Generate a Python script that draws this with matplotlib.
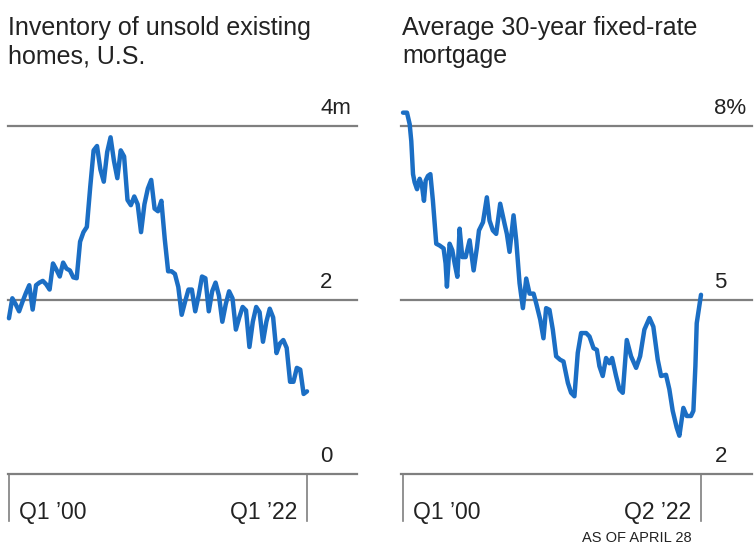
import matplotlib
matplotlib.use("Agg")
import matplotlib.pyplot as plt

plt.rcParams['font.family'] = ['Liberation Sans', 'DejaVu Sans']

# quarterly inventory of unsold existing homes, millions, Q1 2000 .. Q1 2022
inv_start = 2000.0
inventory = [1.79, 2.02, 1.95, 1.87, 1.98, 2.08, 2.17, 1.89, 2.17, 2.20,
             2.22, 2.18, 2.12, 2.42, 2.35, 2.27, 2.43, 2.36, 2.34, 2.26,
             2.25, 2.67, 2.78, 2.84, 3.30, 3.72, 3.77, 3.50, 3.36, 3.70,
             3.87, 3.60, 3.40, 3.72, 3.65, 3.15, 3.09, 3.19, 3.10, 2.78,
             3.10, 3.28, 3.38, 3.05, 3.02, 3.14, 2.70, 2.33, 2.33, 2.30,
             2.15, 1.83, 1.98, 2.12, 2.12, 1.87, 2.05, 2.27, 2.25, 1.87,
             2.10, 2.20, 2.05, 1.75, 1.95, 2.10, 2.02, 1.66, 1.80, 1.92,
             1.88, 1.46, 1.75, 1.92, 1.86, 1.52, 1.75, 1.90, 1.80, 1.39,
             1.50, 1.54, 1.45, 1.06, 1.06, 1.22, 1.20, 0.92, 0.95]
inv_years = [inv_start + 0.25 * i for i in range(len(inventory))]

# average 30-year fixed mortgage rate, %
rate_years = [2000.00, 2000.30, 2000.50, 2000.62, 2000.75, 2000.87, 2001.05, 2001.25,
              2001.42, 2001.57, 2001.70, 2001.87, 2002.05, 2002.24, 2002.49, 2002.74,
              2003.04, 2003.19, 2003.29, 2003.49, 2003.69, 2003.87, 2004.07, 2004.24,
              2004.44, 2004.69, 2004.99, 2005.29, 2005.54, 2005.69, 2005.99, 2006.28,
              2006.48, 2006.73, 2006.98, 2007.28, 2007.61, 2007.78, 2007.98, 2008.28,
              2008.48, 2008.73, 2008.98, 2009.23, 2009.48, 2009.78, 2009.98, 2010.28,
              2010.52, 2010.72, 2010.97, 2011.22, 2011.47, 2011.77, 2012.02, 2012.35,
              2012.59, 2012.84, 2013.09, 2013.34, 2013.72, 2013.97, 2014.27, 2014.52,
              2014.71, 2014.96, 2015.21, 2015.46, 2015.66, 2015.96, 2016.21, 2016.46,
              2016.76, 2017.08, 2017.46, 2017.76, 2018.08, 2018.46, 2018.75, 2019.08,
              2019.33, 2019.70, 2019.95, 2020.20, 2020.50, 2020.70, 2021.00, 2021.25,
              2021.57, 2021.75, 2021.90, 2022.00, 2022.32]
rates = [8.23, 8.23, 8.03, 7.74, 7.17, 7.03, 6.91, 7.09,
         6.97, 6.71, 7.06, 7.14, 7.17, 6.71, 5.97, 5.94,
         5.89, 5.63, 5.23, 5.97, 5.86, 5.63, 5.40, 6.23,
         5.74, 5.74, 6.03, 5.51, 5.91, 6.20, 6.34, 6.77,
         6.37, 6.20, 6.14, 6.66, 6.31, 6.14, 5.83, 6.46,
         6.03, 5.29, 4.86, 5.37, 5.11, 5.11, 4.94, 4.66,
         4.34, 4.86, 4.83, 4.49, 4.03, 3.97, 3.94, 3.57,
         3.40, 3.34, 4.09, 4.43, 4.43, 4.37, 4.17, 4.14,
         3.86, 3.69, 4.00, 3.91, 4.00, 3.69, 3.46, 3.40,
         4.31, 4.03, 3.83, 4.03, 4.49, 4.69, 4.54, 3.97,
         3.69, 3.71, 3.46, 3.09, 2.80, 2.66, 3.14, 3.00,
         3.00, 3.09, 3.86, 4.60, 5.09]

titles = [["Inventory of unsold existing", "homes, U.S."],
          ["Average 30-year fixed-rate", "mortgage"]]
inv_ticks = [0, 2, 4]
inv_tick_labels = ["0", "2", "4m"]
rate_ticks = [2, 5, 8]
rate_tick_labels = ["2", "5", "8%"]
inv_dates = [2000.0, 2022.0]
inv_date_labels = ["Q1 \u201900", "Q1 \u201922"]
rate_dates = [2000.0, 2022.32]
rate_date_labels = ["Q1 \u201900", "Q2 \u201922"]
note = "AS OF APRIL 28"

W, H = 754, 545
BLUE = "#1b6ec4"
GRID = "#7f7f7f"
TXT = "#222222"

fig = plt.figure(figsize=(W / 100, H / 100), dpi=100)


def px_axes(x0, x1, y0, y1):
    # axes placed by pixel box (top-left origin)
    return fig.add_axes([x0 / W, 1 - y1 / H, (x1 - x0) / W, (y1 - y0) / H])


def panel(ax, x, y, ticks, tick_labels, dates, date_labels, xlim, ylim, label_x):
    ax.set_xlim(*xlim)
    ax.set_ylim(*ylim)
    ax.axis("off")
    for t, lab in zip(ticks, tick_labels):
        ax.axhline(t, color=GRID, lw=1.6, zorder=1, clip_on=False)
        ax.annotate(lab, xy=(label_x, t), xycoords=("axes fraction", "data"),
                    xytext=(0, 5), textcoords="offset points",
                    ha="left", va="bottom", fontsize=16, color=TXT)
    ax.plot(x, y, color=BLUE, lw=3.2, solid_joinstyle="round",
            solid_capstyle="round", zorder=3, clip_on=False)
    # date ticks hanging below the baseline
    for i, (d, lab) in enumerate(zip(dates, date_labels)):
        ax.plot([d, d], [0, -0.135], color=GRID, lw=1.2,
                transform=ax.get_xaxis_transform(), clip_on=False)
        if i == 0:
            ax.annotate(lab, xy=(d, -0.11), xycoords=("data", "axes fraction"),
                        xytext=(7, 0), textcoords="offset points",
                        ha="left", va="center", fontsize=16.5, color=TXT)
        else:
            ax.annotate(lab, xy=(d, -0.11), xycoords=("data", "axes fraction"),
                        xytext=(-7, 0), textcoords="offset points",
                        ha="right", va="center", fontsize=16.5, color=TXT)


ax1 = px_axes(8, 357, 126, 474)
panel(ax1, inv_years, inventory, inv_ticks, inv_tick_labels,
      inv_dates, inv_date_labels, (1999.93, 2025.69), (0, 4), 0.895)

ax2 = px_axes(401, 752, 126, 474)
panel(ax2, rate_years, rates, rate_ticks, rate_tick_labels,
      rate_dates, rate_date_labels, (1999.85, 2026.14), (2, 8), 0.893)

ax2.annotate(note, xy=(rate_dates[1], -0.184), xycoords=("data", "axes fraction"),
             xytext=(-7, 0), textcoords="offset points",
             ha="right", va="center", fontsize=10.5, color=TXT)

for x0, lines in zip([8, 402], titles):
    for k, line in enumerate(lines):
        fig.text(x0 / W, 1 - (35 + 28 * k) / H, line, ha="left", va="baseline",
                 fontsize=18, color=TXT)

fig.savefig("out.png", dpi=100, facecolor="white")
